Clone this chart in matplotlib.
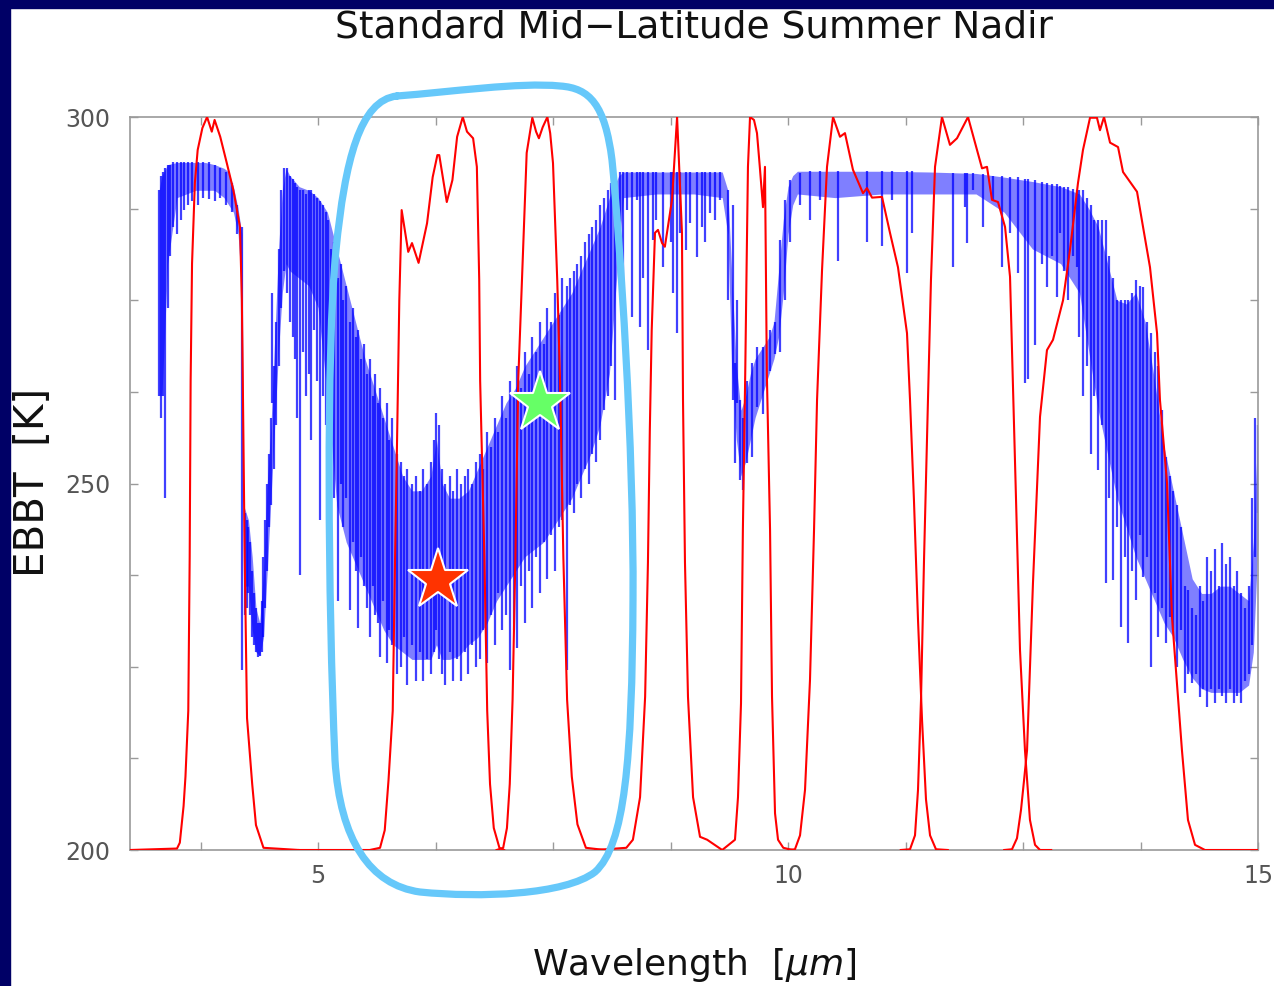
"""
Standard Mid-Latitude Summer Nadir: EBBT spectrum with channel response curves.
"""

import matplotlib

matplotlib.use("Agg")
import matplotlib.pyplot as plt
from matplotlib.patches import PathPatch, Rectangle
from matplotlib.path import Path
from matplotlib.transforms import Affine2D

W_PX, H_PX = 1274, 986

COR_AZUL = "#0000ff"
COR_VERMELHO = "#ff0000"
COR_MOLDURA = "#000066"
COR_DESTAQUE = "#66c8fa"
COR_EIXO = "#9a9a9a"
COR_ROTULO = "#555555"

# ── blue spectrum: dense body (envelope) ────────────────────────────
core_wl = [3.31, 3.34, 3.40, 3.50, 3.60, 3.70, 3.80, 3.90, 4.00, 4.05, 4.10, 4.15, 4.19,
           4.21, 4.26, 4.30, 4.34, 4.38, 4.42, 4.46, 4.50, 4.54, 4.58, 4.62, 4.66, 4.70,
           4.80, 4.90, 5.00, 5.10, 5.20, 5.30, 5.40, 5.50, 5.60, 5.70, 5.80, 5.90, 6.00,
           6.10, 6.20, 6.26, 6.32, 6.40, 6.50, 6.60, 6.70, 6.80, 6.90, 7.00, 7.10, 7.20,
           7.30, 7.40, 7.50, 7.60, 7.70, 7.80, 7.90, 8.00, 8.10, 8.20, 8.25, 8.60, 9.00,
           9.30, 9.36, 9.40, 9.45, 9.50, 9.55, 9.60, 9.65, 9.70, 9.75, 9.80, 9.85, 9.90,
           9.95, 10.00, 10.05, 10.10, 10.50, 11.00, 11.50, 12.00, 12.30, 12.60, 12.90,
           13.10, 13.20, 13.30, 13.40, 13.50, 13.60, 13.70, 13.80, 13.90, 14.00, 14.10,
           14.20, 14.30, 14.40, 14.50, 14.60, 14.70, 14.80, 14.90, 14.95, 15.00]
core_top = [290, 292, 293.5, 293.8, 293.8, 293.8, 293.8, 293.5, 293, 292.5, 290.5, 287.5, 284,
            247, 245, 240, 233, 231, 238, 250, 258, 270, 282, 290, 293, 292,
            290.5, 290, 289, 287, 282, 277, 272, 267, 263, 259, 255, 251, 249,
            249, 251, 256, 250, 248, 248, 249, 252, 255, 258, 261, 263, 266,
            268, 270, 272, 274, 276, 279, 282, 285, 289, 292, 292.5, 292.5, 292.5,
            292.5, 290, 279, 266, 260, 262, 265, 267, 268, 269, 270, 272, 279,
            286, 290.5, 292, 292.6, 292.6, 292.6, 292.5, 292.3, 291.8, 291.2, 290.5,
            289.5, 287.5, 285, 280, 275, 274.5, 276, 272, 264, 255, 249,
            243, 237, 235, 235, 236, 236, 235, 234, 242, 258]
core_bot = [262, 262, 280, 289, 289.5, 290, 290, 290, 289, 288, 287, 284, 276,
            236, 236, 230, 227, 226.5, 229, 238, 248, 258, 268, 276, 280, 279,
            278, 277, 274, 262, 247, 242, 239, 236, 233, 230, 228, 227, 226,
            226, 226, 228, 226, 226, 226.5, 228, 229, 231, 234, 236, 238, 240,
            241, 242, 244, 246, 248, 251, 254, 258, 265, 282, 289, 289.5, 289.5,
            289, 284, 266, 256, 251, 253, 256, 259, 261, 263, 265, 267, 270,
            276, 284, 288, 289.5, 289, 289.5, 289.5, 289.5, 287, 282, 280,
            276, 268, 260, 254, 248, 244, 240, 237, 234, 231, 229,
            226, 223.5, 222, 221.5, 221.5, 221.5, 221.5, 222.5, 227, 242]

# ── blue spectrum: individual absorption lines (top / bottom of each) ─
line_wl = [3.31, 3.33, 3.35, 3.37, 3.40, 3.43, 3.46, 3.50, 3.54, 3.57, 3.62, 3.66, 3.72,
           3.78, 3.84, 3.90, 3.96, 4.02, 4.08, 4.14, 4.19,
           4.22, 4.24, 4.26, 4.28, 4.30, 4.32, 4.34, 4.36, 4.38, 4.40, 4.42, 4.44, 4.46,
           4.48, 4.50, 4.51, 4.53, 4.55, 4.58, 4.61, 4.64, 4.67, 4.70, 4.73, 4.76, 4.78,
           4.81, 4.84, 4.87, 4.90, 4.93, 4.96, 4.99, 5.02, 5.05, 5.08, 5.11, 5.14, 5.17,
           5.21, 5.24, 5.27, 5.30, 5.34, 5.37, 5.40, 5.43, 5.46, 5.49, 5.52, 5.55, 5.58,
           5.61, 5.64, 5.66, 5.69, 5.73, 5.76, 5.79, 5.84, 5.88, 5.92, 5.95, 6.00, 6.04,
           6.08, 6.12, 6.16, 6.20, 6.23, 6.26, 6.29, 6.32, 6.35, 6.40, 6.44, 6.48, 6.52,
           6.56, 6.60, 6.64, 6.68, 6.72, 6.76, 6.80, 6.84, 6.88, 6.92, 6.96, 7.00, 7.04,
           7.08, 7.12, 7.16, 7.20, 7.24, 7.28, 7.32, 7.36, 7.40, 7.44, 7.48, 7.52, 7.56,
           7.60, 7.65, 7.68, 7.72, 7.76, 7.80, 7.84, 7.88, 7.92, 7.96, 8.00, 8.04, 8.08,
           8.12, 8.16, 8.21, 8.24, 8.29, 8.34, 8.39, 8.43, 8.46, 8.51, 8.56, 8.60, 8.67,
           8.75, 8.78, 8.82, 8.85, 8.92, 8.96, 9.03, 9.09, 9.12, 9.17, 9.22, 9.28, 9.36,
           9.41, 9.44, 9.46, 9.49, 9.52, 9.56, 9.62, 9.67, 9.73, 9.81, 9.86, 9.92, 9.97,
           10.02, 10.13, 10.23, 10.34, 10.53, 10.84, 11.00, 11.11, 11.27, 11.32, 11.76,
           11.88, 11.90, 11.97, 12.07, 12.18, 12.28, 12.36, 12.45, 12.52, 12.55, 12.63,
           12.70, 12.76, 12.81, 12.86, 12.89, 12.94, 12.98, 13.03, 13.07, 13.10, 13.14,
           13.18, 13.22, 13.26, 13.30, 13.34, 13.38, 13.42, 13.46, 13.50, 13.54, 13.58,
           13.62, 13.66, 13.70, 13.74, 13.78, 13.82, 13.86, 13.90, 13.94, 13.98, 14.02,
           14.06, 14.10, 14.14, 14.18, 14.22, 14.26, 14.30, 14.34, 14.38, 14.42, 14.46,
           14.50, 14.54, 14.58, 14.62, 14.66, 14.70, 14.74, 14.78, 14.82, 14.86, 14.90,
           14.94, 14.97, 15.00]
line_top = [290, 292, 292.5, 293, 293.5, 293.5, 293.8, 293.8, 293.8, 293.8, 293.8, 293.8, 293.8,
            293.8, 293.8, 293.5, 293, 292.5, 291, 288, 285,
            246, 245, 244, 242, 238, 235, 233, 231, 231, 234, 240, 245, 250,
            254, 259, 276, 266, 272, 282, 290, 293, 293, 292, 291.5, 291, 290.5,
            290, 290, 289.5, 290, 290, 289.5, 289, 288.5, 288, 287, 286, 282, 283,
            278, 280, 275, 277, 272, 274, 270, 271, 267, 269, 265, 267, 262,
            265, 261, 263, 259, 261, 256, 259, 254, 253, 251, 252, 250, 251,
            249, 252, 250, 253, 256, 259.6, 258, 252, 250, 251, 249, 252, 250,
            251, 252, 250, 253, 254, 252, 257, 255, 259, 257, 262, 259, 264,
            262, 266, 263, 268, 265, 270, 268, 272, 269, 274, 272, 276, 273,
            278, 277, 278, 279, 280, 281, 283, 284, 285, 286, 288, 289, 290,
            291, 292, 292.5, 292.5, 292.5, 292.5, 292.5, 292.5, 292.5, 292.5, 292.5, 292.5, 292.5,
            292.5, 292.5, 292.5, 292.5, 292.5, 292.5, 292.5, 292.5, 292.5, 292.5, 292.5, 292.5, 290,
            288, 266.4, 275, 261.4, 259, 264, 266.4, 268.6, 268.6, 270.9, 272, 283.2, 288.7,
            291.4, 292.4, 292.6, 292.6, 292.6, 292.6, 292.6, 292.6, 292.6, 292.6, 292.4,
            292.4, 292.4, 292.4, 292.2, 292, 292, 291.8, 291.8, 291.6, 291.6, 291.4,
            291.2, 291, 290.9, 290.8, 290.6, 290.5, 290.4, 290.2, 290, 290, 290,
            289, 288, 286, 286, 286, 285.9, 281, 278, 275, 275, 275,
            275, 276, 277.8, 277, 276.8, 272, 270.5, 268, 266, 260, 253.6,
            251, 249, 247, 244, 236, 235.5, 233, 232, 236, 234, 240,
            238, 241, 236, 241.9, 239, 240, 236, 238, 235, 233, 236,
            248, 259, 258]
line_bot = [262, 259, 262, 248, 274, 281, 285, 284, 286, 287.3, 288, 288.5, 288,
            289, 288.8, 288.5, 289, 288, 287, 284, 224.6,
            232, 233, 235, 232, 229, 228, 227, 226.3, 226.5, 227, 229, 233, 238,
            244, 247, 261, 252, 258, 266, 274, 279, 276, 272, 270, 267, 259,
            237.5, 268, 262, 265, 256, 271, 264, 245, 262, 258, 250, 256, 248,
            234, 250, 244, 248, 232.7, 242, 238, 230.3, 240, 236, 233, 229, 236,
            232, 231, 226.3, 234, 225.5, 230, 228, 224, 225, 229, 222.5, 228, 223,
            227, 223, 226, 224, 227, 230, 226, 224, 222.5, 227, 223, 226, 223,
            227, 224, 228, 225, 226, 230, 225.5, 232, 228, 235, 230, 232, 224.6,
            230, 227.5, 236, 231, 238, 233, 240, 235, 242, 237, 243, 238, 244,
            245, 224.5, 247, 246, 250, 248, 252, 250, 254, 253, 256, 260, 262,
            266, 261.4, 281.9, 276, 287.3, 272.7, 288.7, 271.4, 278, 268.2, 283.2, 286, 279.5,
            283, 276, 270.5, 284.2, 281.9, 285.5, 280.9, 285, 283, 286.9, 286, 288.7, 275,
            261.4, 252.8, 261, 250.5, 249.1, 252.8, 253.6, 260.4, 259.5, 265.4, 267.7, 268, 275,
            283, 288, 285.9, 288.7, 280.3, 283, 282.4, 288.7, 278.7, 284.2, 279.5,
            287.7, 282.8, 290, 285, 288.7, 279.5, 284.2, 278.7, 263.7, 264.2, 268.9,
            280, 276.8, 281, 275.4, 284.2, 279, 275, 281, 279.5, 270, 262,
            266, 254, 262, 251.8, 258, 236.4, 248, 236.8, 244, 230.4, 240,
            228.2, 238, 234.1, 243, 237.2, 240, 225, 235, 229, 233, 228.2,
            231.8, 230, 225, 230, 221.4, 224, 222.8, 224, 220.9, 222, 219.5,
            222, 220, 222, 221, 220, 222, 220, 221, 220, 223, 224,
            228, 240, 246]

# ── channel response curves (scaled to 200–300 K) ───────────────────
band1_wl = [3.00, 3.50, 3.53, 3.57, 3.59, 3.62, 3.635, 3.645, 3.66, 3.69, 3.72, 3.77, 3.82,
            3.87, 3.90, 3.96, 4.03, 4.10, 4.17, 4.19, 4.20, 4.22, 4.245, 4.30, 4.34, 4.42, 4.80]
band1_bt = [200.0, 200.2, 201, 206, 210, 219, 240, 264, 280, 291, 295.5, 298.5, 300,
            298, 299.6, 297.3, 293.7, 290, 285, 275, 264, 240, 218, 209, 203.4, 200.3, 200]

band2_wl = [4.80, 5.55, 5.66, 5.71, 5.75, 5.795, 5.82, 5.84, 5.865, 5.89, 5.96, 6.00, 6.07,
            6.16, 6.22, 6.27, 6.29, 6.37, 6.43, 6.48, 6.54, 6.585, 6.65, 6.69, 6.715, 6.725,
            6.77, 6.80, 6.83, 6.87, 6.93, 6.98]
band2_bt = [200, 200, 200.3, 202.7, 209.5, 219, 240, 255, 275, 287.3, 281.6, 282.8, 280.1,
            285.5, 291.8, 294.8, 294.8, 288.4, 291.4, 297.3, 300, 298, 297.1, 293.2, 277.8, 264,
            240, 219, 209, 203, 200.3, 200]

band3_wl = [6.90, 6.97, 7.01, 7.04, 7.07, 7.10, 7.13, 7.17, 7.22, 7.28, 7.32, 7.35, 7.39,
            7.44, 7.47, 7.50, 7.545, 7.575, 7.61, 7.65, 7.70, 7.76, 7.85, 8.05]
band3_bt = [200, 200.3, 203, 209, 220.5, 240, 264, 277.8, 295.1, 299.9, 298, 297.1, 298.6,
            300, 297.8, 293.7, 277.8, 264, 240, 220.5, 210, 203.5, 200.3, 200]

band4_wl = [7.95, 8.28, 8.35, 8.426, 8.48, 8.51, 8.53, 8.55, 8.585, 8.617, 8.66, 8.69, 8.766,
            8.82, 8.872, 8.883, 8.904, 8.936, 8.99, 9.064, 9.14, 9.30]
band4_bt = [200, 200.3, 201.4, 207.2, 220.9, 239.2, 257.3, 270.9, 284.2, 284.6, 282.8, 282.3, 288.7,
            300, 284.2, 261.4, 239.2, 220.9, 207.2, 201.8, 201.4, 200]

band5_wl = [9.30, 9.436, 9.468, 9.50, 9.52, 9.545, 9.56, 9.574, 9.596, 9.638, 9.67, 9.70,
            9.734, 9.755, 9.775, 9.809, 9.83, 9.862, 9.894, 9.95, 10.05]
band5_bt = [200, 201.4, 207.2, 220, 243.7, 265, 280, 293.2, 300, 299.6, 297.8, 293.2,
            287.7, 293.2, 265, 243.7, 220.9, 205, 201.4, 200.3, 200]

band6_wl = [10.00, 10.074, 10.128, 10.181, 10.234, 10.277, 10.309, 10.362, 10.415, 10.479,
            10.553, 10.606, 10.691, 10.798, 10.84, 10.894, 11.0, 11.085, 11.17, 11.266, 11.298,
            11.34, 11.383, 11.426, 11.468, 11.511, 11.574, 11.70]
band6_bt = [200, 200.1, 202, 208.2, 223.2, 243.7, 261.4, 279.1, 293.2, 300,
            297.3, 297.8, 292.8, 289.6, 290.3, 289, 289.1, 284.2, 279.5, 270.5, 261.4,
            247.7, 231.4, 217.7, 206.9, 202, 200.1, 200]

band7_wl = [11.20, 11.298, 11.351, 11.383, 11.415, 11.447, 11.489, 11.521, 11.564, 11.638,
            11.723, 11.798, 11.915, 12.064, 12.117, 12.17, 12.234, 12.309, 12.362, 12.383,
            12.426, 12.468, 12.521, 12.574, 12.628, 12.681, 12.80]
band7_bt = [200, 200.1, 202, 208.2, 220.5, 239.6, 261.4, 277.8, 293.2, 300,
            296.2, 297.1, 300, 293, 293.2, 288.7, 288.4, 285, 278.2, 268.2,
            247.7, 227.3, 213.6, 204.1, 200.7, 200, 200]

band8_wl = [12.30, 12.383, 12.436, 12.479, 12.511, 12.543, 12.606, 12.681, 12.755, 12.819,
            12.926, 13.0, 13.085, 13.138, 13.213, 13.287, 13.319, 13.362, 13.426, 13.511,
            13.564, 13.713, 13.777, 13.851, 13.926, 13.957, 14.032, 14.085, 14.191, 14.255,
            14.33, 14.436, 15.0]
band8_bt = [200, 200.1, 201.6, 205.5, 209.5, 213.6, 236.4, 259.1, 268.2, 269.6,
            275, 281.9, 291, 295.5, 299.9, 299.9, 298.2, 300, 296.5, 295.9,
            292.5, 289.8, 285, 279.5, 270.5, 261.4, 250.1, 231.8, 213.6, 204.1,
            200.7, 200, 200]

bands = [(band1_wl, band1_bt), (band2_wl, band2_bt), (band3_wl, band3_bt),
         (band4_wl, band4_bt), (band5_wl, band5_bt), (band6_wl, band6_bt),
         (band7_wl, band7_bt), (band8_wl, band8_bt)]

star_wl = [6.28, 7.36]
star_bt = [236.8, 261.0]
star_cores = ["#ff3300", "#66ff66"]

x_major = [5, 10, 15]
x_minor = [3.75, 6.25, 7.5, 8.75, 11.25, 12.5, 13.75]
y_major = [200, 250, 300]
y_minor = [212.5, 225, 237.5, 262.5, 275, 287.5]

# hand-drawn highlight loop, in figure pixels (x right, y down)
destaque_px = [
    (397, 96),
    (450, 92), (520, 82), (560, 86),
    (590, 88), (605, 105), (612, 160),
    (620, 240), (634, 450), (633, 600),
    (632, 760), (625, 845), (595, 872),
    (565, 895), (480, 898), (420, 892),
    (370, 885), (340, 840), (335, 760),
    (328, 600), (326, 350), (336, 250),
    (345, 160), (360, 100), (397, 96),
]


def _desenhar_moldura(fig):
    fig.add_artist(Rectangle((0, 1 - 8 / H_PX), 1, 8 / H_PX, transform=fig.transFigure,
                             color=COR_MOLDURA, zorder=0))
    fig.add_artist(Rectangle((0, 0), 10 / W_PX, 1, transform=fig.transFigure,
                             color=COR_MOLDURA, zorder=0))


def _desenhar_destaque(fig):
    codes = [Path.MOVETO] + [Path.CURVE4] * (len(destaque_px) - 1)
    trans = Affine2D().scale(0.01, -0.01).translate(0, H_PX / 100) + fig.dpi_scale_trans
    patch = PathPatch(Path(destaque_px, codes), facecolor="none", edgecolor=COR_DESTAQUE,
                      lw=5.2, transform=trans, zorder=10, capstyle="round", joinstyle="round")
    fig.add_artist(patch)


fig = plt.figure(figsize=(W_PX / 100, H_PX / 100), dpi=100)
fig.patch.set_facecolor("white")
ax = fig.add_axes([130 / W_PX, 136 / H_PX, 1128 / W_PX, 733 / H_PX])

# spectrum: dense body + single lines
ax.fill_between(core_wl, core_bot, core_top, color=COR_AZUL, alpha=0.5, lw=0, zorder=2)
ax.vlines(line_wl, line_bot, line_top, color=COR_AZUL, alpha=0.75, lw=1.6, zorder=2)

# channel responses
for wl, bt in bands:
    ax.plot(wl, bt, color=COR_VERMELHO, lw=1.5, zorder=3, solid_joinstyle="round")

for x, y, c in zip(star_wl, star_bt, star_cores):
    ax.plot(x, y, marker="*", ms=46, color=c, mec="white", mew=1.5, zorder=6, clip_on=False)

ax.set_xlim(3, 15)
ax.set_ylim(200, 300)
ax.set_xticks(x_major)
ax.set_xticks(x_minor, minor=True)
ax.set_yticks(y_major)
ax.set_yticks(y_minor, minor=True)
ax.set_xticklabels([str(v) for v in x_major])
ax.set_yticklabels([str(v) for v in y_major])

for spine in ax.spines.values():
    spine.set_color(COR_EIXO)
    spine.set_linewidth(1.2)
ax.tick_params(which="both", direction="in", top=True, right=True, length=6,
               width=1, color=COR_EIXO, labelcolor=COR_ROTULO, labelsize=17)
ax.tick_params(axis="x", pad=10)
ax.tick_params(axis="y", pad=14)

fig.text(694 / W_PX, 1 - 27 / H_PX, "Standard Mid\u2212Latitude Summer Nadir",
         ha="center", va="center", fontsize=27, color="#111111")
fig.text(33 / W_PX, 1 - 482 / H_PX, "EBBT  [K]", rotation=90,
         ha="center", va="center", fontsize=29, color="#111111")
fig.text(694 / W_PX, 1 - 965 / H_PX, r"Wavelength  [$\mu m$]",
         ha="center", va="center", fontsize=26, color="#111111")

_desenhar_moldura(fig)
_desenhar_destaque(fig)

fig.savefig("out.png", dpi=100)
